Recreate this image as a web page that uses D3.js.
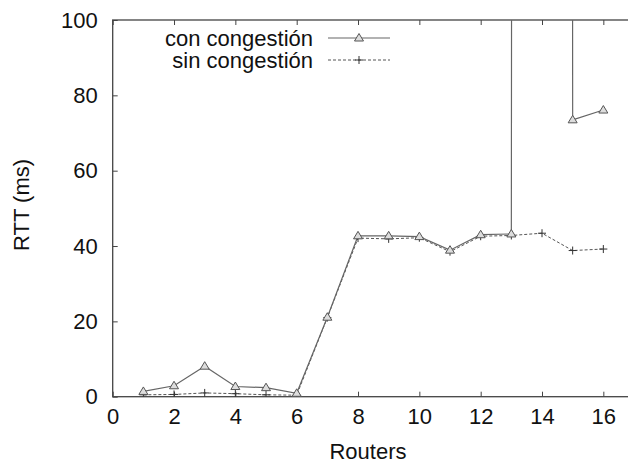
<!DOCTYPE html>
<head>
  <meta charset="utf-8">
  <script src="https://d3js.org/d3.v7.min.js"></script>
  <style>
    body { margin:0; background:white; font-family: "Liberation Sans", Arial, sans-serif; }
    .tick text { font-family: "Liberation Sans", Arial, sans-serif; }
  </style>
</head>
<body>
  <script>
    // data
    var routers = [1, 2, 3, 4, 5, 6, 7, 8, 9, 10, 11, 12, 13, 14, 15, 16];
    var conCongestion = [1.4, 2.9, 8.1, 2.7, 2.4, 0.9, 21.1, 42.7, 42.7, 42.5, 38.9, 43.0, 43.2, 9000, 73.5, 76.1];
    var sinCongestion = [0.5, 0.6, 1.0, 0.8, 0.5, 0.4, 21.0, 42.1, 41.9, 42.2, 38.5, 42.6, 42.8, 43.4, 38.8, 39.2];
    var xTicks = [0, 2, 4, 6, 8, 10, 12, 14, 16];
    var yTicks = [0, 20, 40, 60, 80, 100];
    var seriesNames = ["con congestión", "sin congestión"];

    var W = 628, H = 462;
    var pLeft = 112.7, pRight = 634, pTop = 20, pBottom = 396.7;
    var axisColor = "#444";
    var fontSize = "22px";

    var svg = d3.select("body").append("svg")
      .attr("width", W)
      .attr("height", H)

    var x = d3.scaleLinear().domain([0, 17]).range([pLeft, pRight])
    var y = d3.scaleLinear().domain([0, 100]).range([pBottom, pTop])

    var tick = 5;

    svg.append("defs").append("clipPath").attr("id", "plot")
      .append("rect")
      .attr("x", pLeft).attr("y", pTop)
      .attr("width", pRight - pLeft).attr("height", pBottom - pTop)

    // ticks point inward on all four sides, like gnuplot
    var xAxis = d3.axisBottom(x).tickValues(xTicks).tickSize(-tick).tickPadding(12).tickSizeOuter(0);
    var gx = svg.append("g").attr("transform", "translate(0," + pBottom + ")").call(xAxis)
    var xTop = d3.axisTop(x).tickValues(xTicks).tickSize(-tick).tickFormat("").tickSizeOuter(0);
    svg.append("g").attr("transform", "translate(0," + pTop + ")").call(xTop)

    var yAxis = d3.axisLeft(y).tickValues(yTicks).tickSize(-tick).tickPadding(15).tickSizeOuter(0);
    svg.append("g").attr("transform", "translate(" + pLeft + ",0)").call(yAxis)
    var yRight = d3.axisRight(y).tickValues(yTicks).tickSize(-tick).tickFormat("").tickSizeOuter(0);
    svg.append("g").attr("transform", "translate(" + pRight + ",0)").call(yRight)

    svg.selectAll(".domain").remove()
    svg.selectAll(".tick line").attr("stroke", axisColor).attr("stroke-width", 1)
    svg.selectAll(".tick text")
      .attr("fill", "#111")
      .style("font-size", fontSize)
    gx.selectAll(".tick text").attr("dy", "0.71em")

    svg.append("rect")
      .attr("x", pLeft).attr("y", pTop)
      .attr("width", pRight - pLeft).attr("height", pBottom - pTop)
      .attr("fill", "none")
      .attr("stroke", axisColor)
      .attr("stroke-width", 1.3)

    svg.append("text")
      .attr("x", 368).attr("y", 459)
      .attr("text-anchor", "middle")
      .style("font-size", fontSize)
      .attr("fill", "#111")
      .text("Routers")

    svg.append("text")
      .attr("transform", "translate(29,205) rotate(-90)")
      .attr("text-anchor", "middle")
      .style("font-size", fontSize)
      .attr("fill", "#111")
      .text("RTT (ms)")

    var line = d3.line()
      .x(function(d) { return x(d[0]) })
      .y(function(d) { return y(d[1]) })

    var conData = routers.map(function(r, i) { return [r, conCongestion[i]] })
    var sinData = routers.map(function(r, i) { return [r, sinCongestion[i]] })

    var plot = svg.append("g").attr("clip-path", "url(#plot)")

    plot.append("path")
      .datum(sinData)
      .attr("d", line)
      .attr("fill", "none")
      .attr("stroke", "#555")
      .attr("stroke-width", 1)
      .attr("stroke-dasharray", "3,2")

    plot.append("path")
      .datum(conData)
      .attr("d", line)
      .attr("fill", "none")
      .attr("stroke", "#666")
      .attr("stroke-width", 1.2)

    function triangle(g, cx, cy) {
      g.append("path")
        .attr("d", "M" + cx + "," + (cy - 4.5) + "L" + (cx + 4.5) + "," + (cy + 3) + "L" + (cx - 4.5) + "," + (cy + 3) + "Z")
        .attr("fill", "#ddd")
        .attr("stroke", "#555")
        .attr("stroke-width", 1)
    }
    function plus(g, cx, cy) {
      g.append("path")
        .attr("d", "M" + (cx - 4) + "," + cy + "H" + (cx + 4) + "M" + cx + "," + (cy - 4) + "V" + (cy + 4))
        .attr("stroke", "#333")
        .attr("stroke-width", 1)
    }

    sinData.forEach(function(d) {
      if (d[1] <= 100) plus(plot, x(d[0]), y(d[1]))
    })
    conData.forEach(function(d) {
      if (d[1] <= 100) triangle(plot, x(d[0]), y(d[1]))
    })

    // legend
    var legend = svg.append("g")
    legend.append("text")
      .attr("x", 313).attr("y", 46)
      .attr("text-anchor", "end")
      .style("font-size", fontSize)
      .attr("fill", "#111")
      .text(seriesNames[0])
    legend.append("text")
      .attr("x", 313).attr("y", 68)
      .attr("text-anchor", "end")
      .style("font-size", fontSize)
      .attr("fill", "#111")
      .text(seriesNames[1])
    legend.append("line")
      .attr("x1", 328).attr("x2", 390).attr("y1", 38).attr("y2", 38)
      .attr("stroke", "#666").attr("stroke-width", 1.2)
    triangle(legend, 359, 38)
    legend.append("line")
      .attr("x1", 328).attr("x2", 390).attr("y1", 60).attr("y2", 60)
      .attr("stroke", "#555").attr("stroke-width", 1).attr("stroke-dasharray", "3,2")
    plus(legend, 359, 60)
  </script>
</body>
